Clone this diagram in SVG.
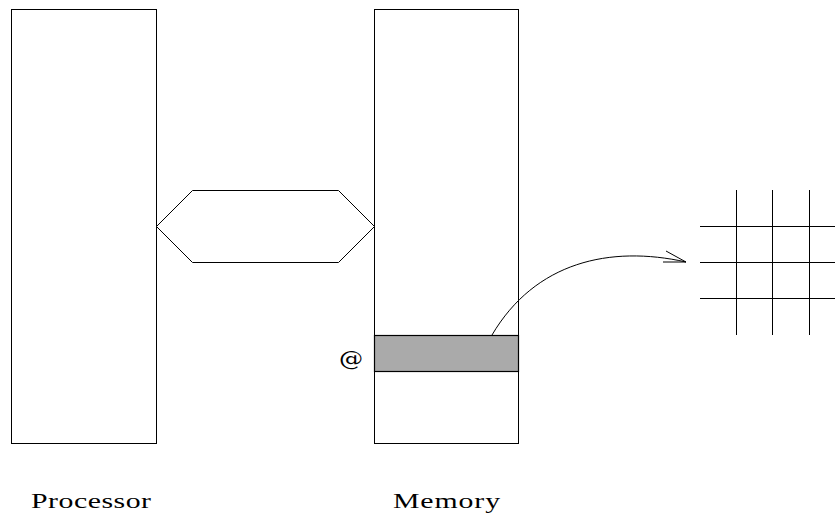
<svg xmlns="http://www.w3.org/2000/svg" width="835" height="521" viewBox="0 0 835 521">
<style>
.box{fill:#fff;stroke:#000;stroke-width:1}
.ln{fill:none;stroke:#000;stroke-width:1}
.lbl{font-family:"Liberation Serif",serif;font-size:21px;fill:#000}
</style>
<rect width="835" height="521" fill="#fff"/>
<g id="processor">
<rect class="box" x="11.5" y="9.5" width="145" height="434"/>
<text class="lbl" transform="translate(31,508) scale(1.42,1)" x="0" y="0" textLength="84.5" lengthAdjust="spacing">Processor</text>
</g>
<g id="memory">
<rect class="box" x="374.5" y="9.5" width="144" height="434"/>
<rect x="374.5" y="335.5" width="144" height="36" fill="#aaaaaa" stroke="#000" stroke-width="1.2"/>
<text class="lbl" transform="translate(339,366) scale(1.15,1)" x="0" y="0" style="font-family:'DejaVu Serif',serif;font-size:21px">@</text>
<text class="lbl" transform="translate(393,508) scale(1.42,1)" x="0" y="0" textLength="75.4" lengthAdjust="spacing">Memory</text>
</g>
<g id="bus">
<polygon class="box" points="156.5,226.5 192.5,190.5 338.5,190.5 374.5,226.5 338.5,262.5 192.5,262.5"/>
</g>
<g id="grid">
<line class="ln" x1="736.5" y1="190" x2="736.5" y2="335"/>
<line class="ln" x1="772.5" y1="190" x2="772.5" y2="335"/>
<line class="ln" x1="809.5" y1="190" x2="809.5" y2="335"/>
<line class="ln" x1="700" y1="226.5" x2="835" y2="226.5"/>
<line class="ln" x1="700" y1="262.5" x2="835" y2="262.5"/>
<line class="ln" x1="700" y1="298.5" x2="835" y2="298.5"/>
</g>
<g id="connectors">
<path class="ln" d="M492,335 C535,262 610,245 686,262"/>
<path class="ln" d="M666,251 L686,262 L663,262"/>
</g>
</svg>
